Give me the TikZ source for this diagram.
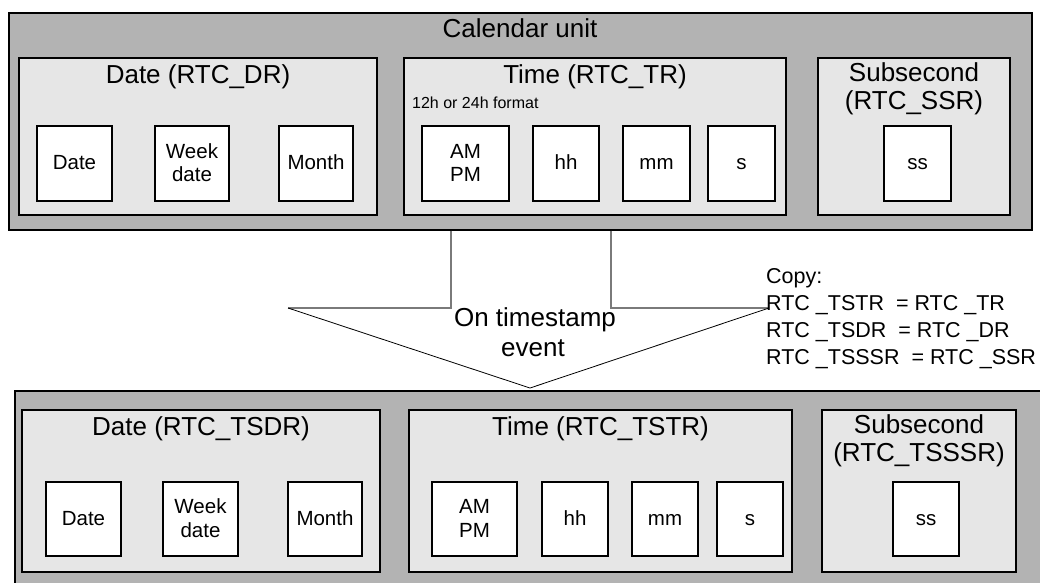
\documentclass[tikz,border=0pt]{standalone}
\usepackage{fontspec}
\setmainfont{Liberation Sans}
\definecolor{outergray}{HTML}{B3B3B3}
\definecolor{innergray}{HTML}{E6E6E6}
\definecolor{linegray}{HTML}{7A7A7A}
\newcommand{\fstrut}{\rule[-4.5pt]{0pt}{21.5pt}}
\tikzset{
  outerbox/.style={draw=black, line width=1.4pt, fill=outergray, inner sep=0pt},
  regbox/.style={draw=black, line width=1.4pt, fill=innergray, inner sep=0pt},
  fieldbox/.style={draw=black, line width=1.4pt, fill=white, inner sep=0pt, align=center,
    font=\fontsize{20.5}{23.5}\selectfont, minimum height=#1},
  fieldbox/.default=75pt,
  title/.style={anchor=base, inner sep=0pt, font=\fontsize{26}{30}\selectfont},
  smalltxt/.style={anchor=base west, inner sep=0pt, font=\fontsize{16}{19}\selectfont},
  copytxt/.style={anchor=base west, inner sep=0pt, font=\fontsize{21.5}{27}\selectfont},
  grayline/.style={draw=linegray, line width=1.2pt},
  diagline/.style={draw=black, line width=0.8pt}
}
\begin{document}
\begin{tikzpicture}[x=1pt,y=-1pt]
\useasboundingbox (0,0) rectangle (1040,582);
\clip (0,0) rectangle (1040,582);
\fill[white] (0,0) rectangle (1040,582);

% ---------- top: calendar unit ----------
\node[outerbox, minimum width=1023pt, minimum height=217pt] (cal) at (520.5,121.5) {};
\node[title] (caltitle) at (520,37) {Calendar unit};

\node[regbox, minimum width=358pt, minimum height=157pt] (dr) at (198,136.5) {};
\node[regbox, minimum width=382pt, minimum height=157pt] (tr) at (595,136.5) {};
\node[regbox, minimum width=192pt, minimum height=157pt] (ssr) at (914,136.5) {};

\node[title] (drtitle) at (198,83) {Date (RTC\_DR)};
\node[title] (trtitle) at (595,83) {Time (RTC\_TR)};
\node[smalltxt] (fmt) at (412,108) {12h or 24h format};
\node[title] (ssrtitleA) at (914,81) {Subsecond};
\node[title] (ssrtitleB) at (914,109) {(RTC\_SSR)};

\node[fieldbox, minimum width=75pt] (tdate) at (74.5,163.5) {\fstrut Date};
\node[fieldbox, minimum width=74pt] (tweek) at (192,163.5) {\fstrut Week\\\fstrut date};
\node[fieldbox, minimum width=74pt] (tmonth) at (316,163.5) {\fstrut Month};
\node[fieldbox, minimum width=87pt] (tampm) at (465.5,163.5) {\fstrut AM\\\fstrut PM};
\node[fieldbox, minimum width=66pt] (thh) at (566,163.5) {\fstrut hh};
\node[fieldbox, minimum width=67pt] (tmm) at (656.5,163.5) {\fstrut mm};
\node[fieldbox, minimum width=67pt] (ts) at (741.5,163.5) {\fstrut s};
\node[fieldbox, minimum width=67pt] (tss) at (917.5,163.5) {\fstrut ss};

% ---------- bottom: timestamp registers ----------
\node[outerbox, minimum width=1045pt, minimum height=220pt] (tsunit) at (537.5,501) {};

\node[regbox, minimum width=358pt, minimum height=162pt] (tsdr) at (201,491) {};
\node[regbox, minimum width=383pt, minimum height=162pt] (tstr) at (600.5,491) {};
\node[regbox, minimum width=194pt, minimum height=162pt] (tsssr) at (919,491) {};

\node[title] (tsdrtitle) at (201,435) {Date (RTC\_TSDR)};
\node[title] (tstrtitle) at (600.5,435) {Time (RTC\_TSTR)};
\node[title] (tsssrtitleA) at (919,433) {Subsecond};
\node[title] (tsssrtitleB) at (919,461) {(RTC\_TSSSR)};

\node[fieldbox=74pt, minimum width=75pt] (bdate) at (83.5,519) {\fstrut Date};
\node[fieldbox=74pt, minimum width=75pt] (bweek) at (200.5,519) {\fstrut Week\\\fstrut date};
\node[fieldbox=74pt, minimum width=74pt] (bmonth) at (325,519) {\fstrut Month};
\node[fieldbox=74pt, minimum width=85pt] (bampm) at (474.5,519) {\fstrut AM\\\fstrut PM};
\node[fieldbox=74pt, minimum width=66pt] (bhh) at (575,519) {\fstrut hh};
\node[fieldbox=74pt, minimum width=66pt] (bmm) at (665,519) {\fstrut mm};
\node[fieldbox=74pt, minimum width=66pt] (bs) at (750,519) {\fstrut s};
\node[fieldbox=74pt, minimum width=66pt] (bss) at (926,519) {\fstrut ss};

% ---------- block arrow ----------
\coordinate (aL) at (451,308);
\coordinate (aR) at (611,308);
\coordinate (cL) at (288,308);
\coordinate (cR) at (769,308);
\coordinate (apex) at (530,388);
\draw[grayline] (aL |- cal.south) -- (aL) -- (cL);
\draw[grayline] (aR |- cal.south) -- (aR) -- (cR);
\draw[diagline] (cL) -- (apex) -- (cR);

\node[title] (evA) at (535,326) {On timestamp};
\node[title] (evB) at (533,356) {event};

% ---------- copy note ----------
\node[copytxt] (cp0) at (766,283) {Copy:};
\node[copytxt] (cp1) at (766,310) {RTC \_TSTR\ \ = RTC \_TR};
\node[copytxt] (cp2) at (766,337) {RTC \_TSDR\ \ = RTC \_DR};
\node[copytxt] (cp3) at (766,364) {RTC \_TSSSR\ \ = RTC \_SSR};
\end{tikzpicture}
\end{document}
